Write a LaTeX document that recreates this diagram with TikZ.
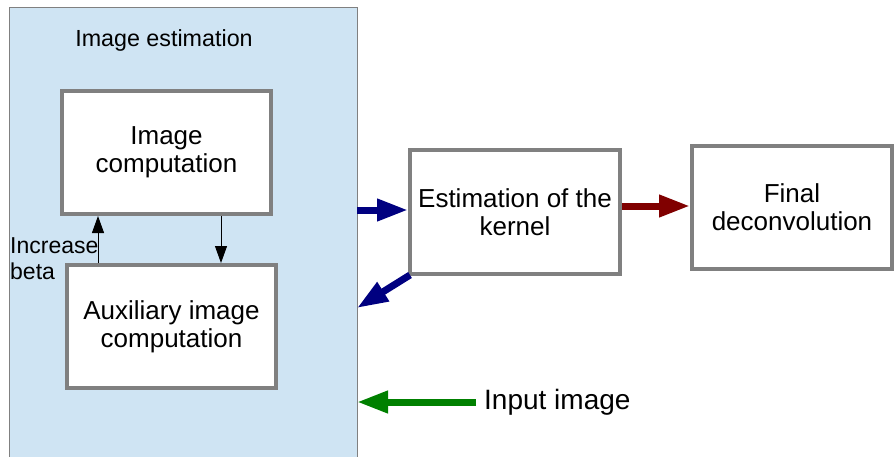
\documentclass[tikz,border=0pt]{standalone}
\usepackage{fontspec}
\setmainfont{Liberation Sans}
\usetikzlibrary{arrows.meta}
\definecolor{panelblue}{HTML}{CFE4F3}
\definecolor{boxgray}{HTML}{808080}
\definecolor{navyarrow}{HTML}{000080}
\definecolor{redarrow}{HTML}{800000}
\definecolor{greenarrow}{HTML}{008000}
\begin{document}
\begin{tikzpicture}[x=1pt,y=-1pt,
  procbox/.style={draw=boxgray, line width=4pt, fill=white, inner sep=0pt,
    align=center, font=\fontsize{26}{28}\selectfont},
  thinarrow/.style={line width=1pt, -{Triangle[length=17pt,width=12pt]}},
  bigarrow/.style={line width=7pt, -{Triangle[length=31pt,width=21pt]}}]
\useasboundingbox (0,0) rectangle (896,457);
% panel
\node[fill=panelblue, anchor=north west, minimum width=348pt, minimum height=449pt,
  inner sep=0pt, outer sep=0pt] (panel) at (9,8) {};
\draw[boxgray, line width=1pt] (panel.south west) -- (panel.north west)
  -- (panel.north east) -- (panel.south east);
\node[font=\fontsize{23.3}{26}\selectfont] (title) at (164,40) {Image estimation};
% boxes
\node[procbox, minimum width=209pt, minimum height=123pt] (img) at (166.5,152.5)
  {Image\\computation};
\node[procbox, minimum width=209pt, minimum height=123pt] (aux) at (171.5,326.5)
  {Auxiliary image\\computation};
\node[procbox, minimum width=210pt, minimum height=124pt] (kernel) at (515,212)
  {Estimation of the\\kernel};
\node[procbox, minimum width=200pt, minimum height=123pt] (final) at (792,207.5)
  {Final\\deconvolution};
% labels
\node[font=\fontsize{23}{26}\selectfont, align=left, anchor=north west, inner sep=0pt]
  (beta) at (10,237) {Increase\\beta};
\node[font=\fontsize{28}{32}\selectfont, anchor=base west, inner sep=0pt]
  (input) at (484,409) {Input image};
% coordinates
\coordinate (upx) at (98,0);
\coordinate (downx) at (221,0);
\coordinate (blueY) at (0,210);
\coordinate (diagEnd) at (357,308);
\coordinate (redY) at (0,206);
\coordinate (greenStart) at (476,402);
\coordinate (greenEnd) at (357,402);
% arrows
\draw[thinarrow] (aux.north -| upx) -- (img.south -| upx);
\draw[thinarrow] (img.south -| downx) -- (aux.north -| downx);
\draw[bigarrow, navyarrow] (panel.east |- blueY) -- (kernel.west |- blueY);
\draw[bigarrow, navyarrow] ([shift={(2,-1)}]kernel.south west) -- (diagEnd);
\draw[bigarrow, redarrow] (kernel.east |- redY) -- (final.west |- redY);
\draw[bigarrow, greenarrow] (greenStart) -- (greenEnd);
\end{tikzpicture}
\end{document}
